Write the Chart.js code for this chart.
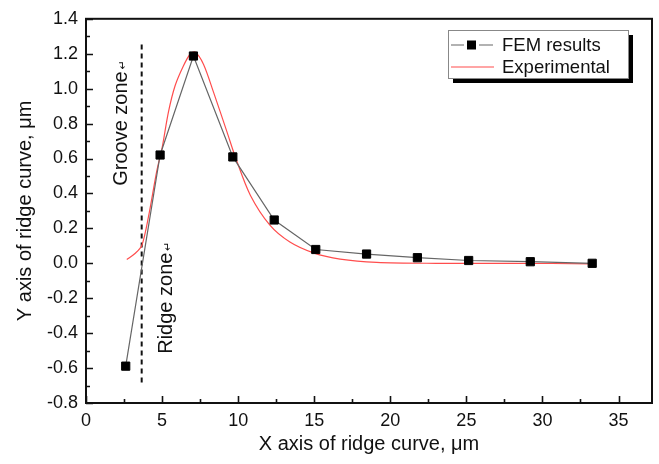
<!DOCTYPE html>
<html>
<head>
<meta charset="utf-8">
<script src="https://cdn.jsdelivr.net/npm/chart.js@4.4.0/dist/chart.umd.min.js"></script>
<style>
  html, body { margin: 0; padding: 0; background: #fff; }
  #wrap { width: 659px; height: 464px; }
</style>
</head>
<body>
<div id="wrap"><canvas id="c" width="659" height="464"></canvas></div>
<script>
// FEM results (black squares)
const femX = [2.61, 4.87, 7.06, 9.65, 12.37, 15.1, 18.44, 21.78, 25.15, 29.2, 33.27];
const femY = [-0.589, 0.62, 1.187, 0.609, 0.248, 0.079, 0.053, 0.032, 0.016, 0.009, 0.0];

// experimental curve (red)
const expX = [2.68, 3.22, 3.66, 4.1, 4.65, 5.0, 5.42, 5.86, 6.4, 6.84, 7.17, 7.72, 8.38, 9.26, 9.85, 10.8, 12.1, 13.4, 14.95, 16.7, 19.1, 23, 28, 33.2];
const expY = [0.022, 0.056, 0.10, 0.264, 0.528, 0.66, 0.867, 1.018, 1.13, 1.197, 1.21, 1.14, 0.98, 0.754, 0.60, 0.39, 0.217, 0.122, 0.06, 0.024, 0.005, 0.0, 0.0, -0.003];

// boundary between groove and ridge zones
const zoneX = [3.66, 3.66];
const zoneY = [1.253, -0.687];

const xTicks = [0, 5, 10, 15, 20, 25, 30, 35];
const yTicks = [-0.8, -0.6, -0.4, -0.2, 0.0, 0.2, 0.4, 0.6, 0.8, 1.0, 1.2, 1.4];

const seriesNames = ['FEM results', 'Experimental'];
const zoneLabels = [
  { text: 'Groove zone', x: 2.3, y: 0.8 },
  { text: 'Ridge zone', x: 5.3, y: -0.2 }
];

const FONT = '"Liberation Sans", Arial, sans-serif';
const pts = (xs, ys) => xs.map((x, i) => ({ x: x, y: ys[i] }));

// frame, inward ticks, zone labels, legend
const decor = {
  id: 'decor',
  afterDraw(chart) {
    const ctx = chart.ctx;
    const a = chart.chartArea;
    const sx = chart.scales.x, sy = chart.scales.y;
    ctx.save();
    ctx.strokeStyle = '#111';
    ctx.lineWidth = 2;
    ctx.strokeRect(a.left, a.top, a.right - a.left, a.bottom - a.top);

    ctx.lineWidth = 1.6;
    ctx.beginPath();
    xTicks.forEach((v, i) => {
      const px = Math.round(sx.getPixelForValue(v)) + 0.5;
      ctx.moveTo(px, a.bottom); ctx.lineTo(px, a.bottom - 7);
      const m = v + 2.5;
      if (m < sx.max) {
        const pm = Math.round(sx.getPixelForValue(m)) + 0.5;
        ctx.moveTo(pm, a.bottom); ctx.lineTo(pm, a.bottom - 4);
      }
    });
    yTicks.forEach(v => {
      const py = Math.round(sy.getPixelForValue(v)) + 0.5;
      ctx.moveTo(a.left, py); ctx.lineTo(a.left + 7, py);
      const m = v + 0.1;
      if (m < sy.max) {
        const pm = Math.round(sy.getPixelForValue(m)) + 0.5;
        ctx.moveTo(a.left, pm); ctx.lineTo(a.left + 4, pm);
      }
    });
    ctx.stroke();

    // rotated zone labels
    ctx.fillStyle = '#111';
    zoneLabels.forEach(z => {
      ctx.save();
      ctx.translate(sx.getPixelForValue(z.x), sy.getPixelForValue(z.y));
      ctx.rotate(-Math.PI / 2);
      ctx.font = '20px ' + FONT;
      ctx.textBaseline = 'middle';
      const w = ctx.measureText(z.text).width;
      ctx.textAlign = 'left';
      ctx.fillText(z.text, -w / 2 - 5, 0);
      ctx.font = '11px "DejaVu Sans"';
      ctx.fillText('\u21B5', w / 2 - 3, 2);
      ctx.restore();
    });

    // legend box with shadow
    const bx = 448, by = 30, bw = 180, bh = 48;
    ctx.fillStyle = '#000';
    ctx.fillRect(bx + 5, by + 5, bw, bh);
    ctx.fillStyle = '#fff';
    ctx.fillRect(bx, by, bw, bh);
    ctx.strokeStyle = '#888';
    ctx.lineWidth = 1;
    ctx.strokeRect(bx + 0.5, by + 0.5, bw, bh);

    const ly1 = 45, ly2 = 67;
    ctx.strokeStyle = '#666';
    ctx.lineWidth = 1.2;
    ctx.beginPath();
    ctx.moveTo(451, ly1); ctx.lineTo(464, ly1);
    ctx.moveTo(479, ly1); ctx.lineTo(493, ly1);
    ctx.stroke();
    ctx.fillStyle = '#000';
    ctx.fillRect(467, ly1 - 4.5, 9, 9);
    ctx.strokeStyle = '#ff4d4d';
    ctx.beginPath();
    ctx.moveTo(451, ly2); ctx.lineTo(494, ly2);
    ctx.stroke();
    ctx.fillStyle = '#111';
    ctx.font = '18.5px ' + FONT;
    ctx.textAlign = 'left';
    ctx.textBaseline = 'middle';
    ctx.fillText(seriesNames[0], 502, ly1 + 1);
    ctx.fillText(seriesNames[1], 502, ly2 + 1);
    ctx.restore();
  }
};

new Chart(document.getElementById('c'), {
  type: 'scatter',
  data: {
    datasets: [
      {
        label: seriesNames[0],
        data: pts(femX, femY),
        showLine: true,
        borderColor: '#666',
        borderWidth: 1.2,
        pointStyle: 'rect',
        pointRadius: 5.8,
        pointBackgroundColor: '#000',
        pointBorderColor: '#000',
        pointBorderWidth: 1
      },
      {
        label: seriesNames[1],
        data: pts(expX, expY),
        showLine: true,
        borderColor: '#ff4d4d',
        borderWidth: 1.2,
        tension: 0.3,
        pointRadius: 0
      },
      {
        label: 'zone',
        data: pts(zoneX, zoneY),
        showLine: true,
        borderColor: '#111',
        borderWidth: 2,
        borderDash: [5, 4],
        pointRadius: 0
      }
    ]
  },
  options: {
    responsive: false,
    animation: false,
    events: [],
    layout: { padding: { top: 14, right: 7, left: 0, bottom: 0 } },
    plugins: { legend: { display: false }, tooltip: { enabled: false } },
    scales: {
      x: {
        type: 'linear',
        min: 0,
        max: 37.2,
        afterBuildTicks: s => { s.ticks = xTicks.map(v => ({ value: v })); },
        afterFit: s => { s.height = 61; },
        grid: { display: false, drawTicks: false },
        border: { display: false },
        ticks: { color: '#111', padding: 7, maxRotation: 0, font: { family: FONT, size: 18 } },
        title: {
          display: true,
          text: 'X axis of ridge curve, \u03bcm',
          color: '#111',
          font: { family: FONT, size: 20 },
          padding: { top: 0, bottom: 8 }
        }
      },
      y: {
        type: 'linear',
        min: -0.8,
        max: 1.4,
        afterBuildTicks: s => { s.ticks = yTicks.map(v => ({ value: v })); },
        afterFit: s => { s.width = 86; },
        grid: { display: false, drawTicks: false },
        border: { display: false },
        ticks: {
          color: '#111',
          padding: 8,
          font: { family: FONT, size: 18 },
          callback: v => v.toFixed(1)
        },
        title: {
          display: true,
          text: 'Y axis of ridge curve, \u03bcm',
          color: '#111',
          font: { family: FONT, size: 20 },
          padding: { top: 13, bottom: 0 }
        }
      }
    }
  },
  plugins: [decor]
});
</script>
</body>
</html>
